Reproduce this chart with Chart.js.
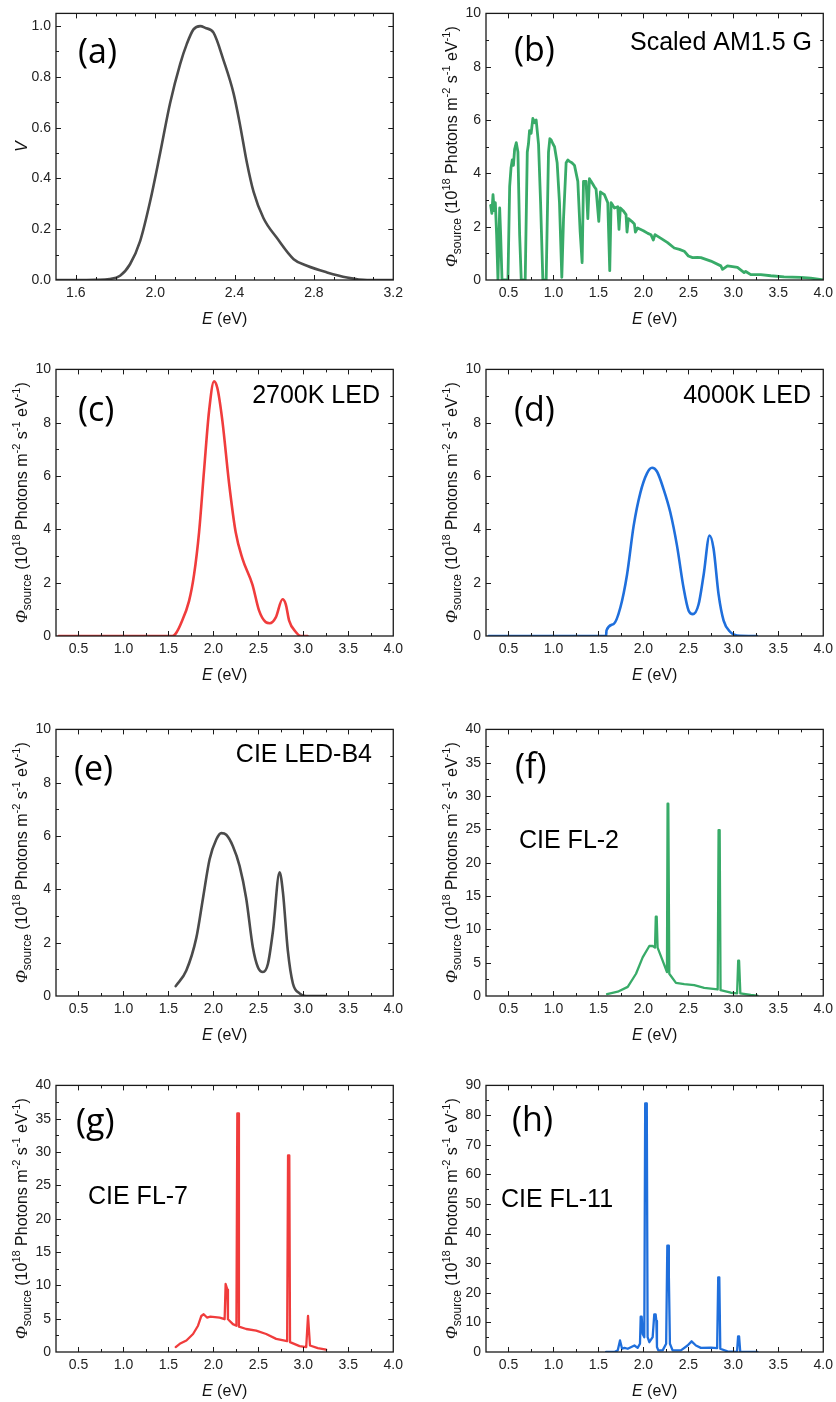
<!DOCTYPE html>
<html>
<head>
<meta charset="utf-8">
<script src="https://cdn.jsdelivr.net/npm/chart.js@4.4.1/dist/chart.umd.min.js"></script>
<style>
  body { margin: 0; background: #fff; width: 836px; height: 1402px; position: relative; overflow: hidden; }
  canvas { position: absolute; }
</style>
</head>
<body>
<canvas id="ca" width="408" height="330" style="left:0px;top:0px"></canvas>
<canvas id="cb" width="408" height="330" style="left:430px;top:0px"></canvas>
<canvas id="cc" width="408" height="330" style="left:0px;top:356px"></canvas>
<canvas id="cd" width="408" height="330" style="left:430px;top:356px"></canvas>
<canvas id="ce" width="408" height="330" style="left:0px;top:716px"></canvas>
<canvas id="cf" width="408" height="330" style="left:430px;top:716px"></canvas>
<canvas id="cg" width="408" height="330" style="left:0px;top:1072px"></canvas>
<canvas id="ch" width="408" height="330" style="left:430px;top:1072px"></canvas>
<script>
// (a) curva de sensibilidad V(E)
const aE = [1.5, 1.6, 1.7, 1.77, 1.823, 1.873, 1.924, 1.974, 2.025, 2.075, 2.126, 2.159, 2.193, 2.227, 2.252, 2.294, 2.345, 2.395, 2.429, 2.462, 2.496, 2.546, 2.613, 2.698, 2.765, 2.866, 2.967, 3.068, 3.2];
const aV = [0, 0, 0.001, 0.004, 0.017, 0.062, 0.153, 0.308, 0.50, 0.696, 0.851, 0.929, 0.987, 1.0, 0.993, 0.974, 0.864, 0.735, 0.605, 0.463, 0.347, 0.243, 0.166, 0.082, 0.056, 0.030, 0.010, 0, 0];

// (b) AM1.5 G escalado
const bE = [0.302, 0.315, 0.328, 0.341, 0.354, 0.368, 0.383, 0.402, 0.413, 0.428, 0.494, 0.513, 0.528, 0.542, 0.555, 0.568, 0.587, 0.605, 0.624, 0.642, 0.686, 0.709, 0.722, 0.734, 0.752, 0.771, 0.79, 0.808, 0.834, 0.857, 0.882, 0.919, 0.945, 0.96, 0.975, 0.995, 1.012, 1.041, 1.067, 1.093, 1.112, 1.141, 1.16, 1.178, 1.205, 1.234, 1.271, 1.297, 1.319, 1.334, 1.363, 1.382, 1.400, 1.418, 1.437, 1.455, 1.474, 1.504, 1.522, 1.545, 1.567, 1.604, 1.626, 1.641, 1.66, 1.678, 1.715, 1.729, 1.744, 1.775, 1.807, 1.818, 1.833, 1.87, 1.9, 1.911, 1.936, 2.0, 2.05, 2.084, 2.11, 2.129, 2.2, 2.269, 2.343, 2.4, 2.454, 2.5, 2.547, 2.6, 2.639, 2.75, 2.861, 2.88, 2.935, 3.046, 3.12, 3.138, 3.194, 3.305, 3.416, 3.564, 3.749, 3.86, 4.0];
const bPhi = [2.8, 2.5, 3.2, 2.6, 2.9, 1.7, 0, 2.7, 1.7, 0, 0, 3.5, 4.2, 4.5, 4.3, 4.9, 5.15, 4.8, 1.7, 0, 0, 4.8, 5.1, 5.6, 5.5, 6.06, 5.9, 6.0, 5.1, 2.9, 0, 0, 4.8, 5.3, 5.25, 5.1, 5.0, 4.4, 2.9, 0.1, 2.3, 4.4, 4.5, 4.45, 4.4, 4.3, 3.7, 1.8, 0.65, 3.7, 3.7, 2.3, 3.8, 3.7, 3.6, 3.5, 3.4, 2.2, 3.3, 3.25, 3.2, 2.9, 0.35, 2.9, 2.8, 2.7, 2.75, 1.9, 2.7, 2.6, 2.45, 1.8, 2.3, 2.2, 2.1, 1.8, 1.95, 1.85, 1.75, 1.7, 1.5, 1.7, 1.55, 1.4, 1.2, 1.15, 1.08, 0.9, 0.84, 0.85, 0.84, 0.71, 0.53, 0.4, 0.53, 0.47, 0.28, 0.32, 0.2, 0.2, 0.16, 0.12, 0.1, 0.07, 0];

// (c) LED 2700K
const cE = [0.28, 1.544, 1.581, 1.637, 1.729, 1.785, 1.841, 1.896, 1.952, 2.007, 2.044, 2.1, 2.174, 2.248, 2.322, 2.434, 2.508, 2.582, 2.627, 2.694, 2.768, 2.805, 2.842, 2.916, 2.972, 3.046];
const cPhi = [0, 0, 0.09, 0.45, 1.31, 2.3, 3.9, 6.2, 8.44, 9.55, 9.3, 8.07, 5.74, 3.89, 2.91, 1.93, 0.95, 0.52, 0.48, 0.7, 1.38, 1.19, 0.58, 0.15, 0, 0];

// (d) LED 4000K
const dE = [0.28, 1.585, 1.59, 1.67, 1.744, 1.818, 1.892, 1.966, 2.04, 2.096, 2.151, 2.225, 2.299, 2.373, 2.447, 2.503, 2.551, 2.614, 2.67, 2.736, 2.78, 2.836, 2.892, 2.966, 3.04, 3.262];
const dPhi = [0, 0, 0.21, 0.45, 1.07, 2.3, 4.14, 5.37, 6.1, 6.31, 6.17, 5.5, 4.64, 3.4, 1.8, 0.95, 0.82, 1.19, 2.3, 3.77, 3.28, 1.56, 0.58, 0.15, 0.02, 0];

// (e) CIE LED-B4
const eE = [1.581, 1.699, 1.81, 1.884, 1.958, 2.032, 2.088, 2.143, 2.217, 2.291, 2.365, 2.439, 2.495, 2.551, 2.606, 2.662, 2.736, 2.773, 2.828, 2.884, 2.958, 3.032, 3.254];
const ePhi = [0.37, 0.96, 2.18, 3.66, 5.13, 5.87, 6.11, 6.05, 5.62, 4.88, 3.66, 1.82, 1.08, 0.9, 1.2, 2.43, 4.64, 3.9, 1.69, 0.47, 0.1, 0, 0];

// (f) CIE FL-2
const fE = [1.596, 1.715, 1.826, 1.918, 1.992, 2.066, 2.103, 2.129, 2.138, 2.148, 2.158, 2.214, 2.262, 2.269, 2.277, 2.288, 2.362, 2.454, 2.565, 2.676, 2.826, 2.836, 2.848, 2.858, 2.972, 3.042, 3.054, 3.064, 3.078, 3.194, 3.268];
const fPhi = [0.3, 0.64, 1.37, 3.34, 5.8, 7.5, 7.5, 7.26, 11.9, 11.9, 7.26, 5.3, 3.58, 28.86, 28.86, 3.34, 1.96, 1.77, 1.62, 1.23, 0.98, 24.9, 24.9, 0.88, 0.49, 0.39, 5.3, 5.3, 0.39, 0.15, 0.05];

// (g) CIE FL-7
const gE = [1.581, 1.626, 1.7, 1.774, 1.829, 1.866, 1.892, 1.929, 1.966, 2.07, 2.125, 2.136, 2.155, 2.162, 2.217, 2.256, 2.266, 2.275, 2.284, 2.365, 2.476, 2.587, 2.698, 2.82, 2.83, 2.844, 2.852, 2.958, 3.032, 3.052, 3.06, 3.074, 3.161, 3.254];
const gPhi = [0.74, 1.23, 1.72, 2.7, 3.94, 5.41, 5.66, 5.17, 5.3, 5.17, 4.92, 10.2, 9.35, 4.92, 4.18, 3.94, 35.8, 35.8, 3.8, 3.45, 3.2, 2.7, 1.97, 1.62, 29.5, 29.5, 1.48, 0.89, 0.74, 5.41, 5.41, 0.98, 0.59, 0.34];

// (h) CIE FL-11
const hE = [1.585, 1.678, 1.715, 1.74, 1.763, 1.789, 1.826, 1.9, 1.936, 1.962, 1.97, 1.981, 1.992, 2.01, 2.02, 2.031, 2.038, 2.047, 2.066, 2.103, 2.121, 2.136, 2.144, 2.151, 2.166, 2.214, 2.253, 2.266, 2.275, 2.283, 2.295, 2.325, 2.417, 2.491, 2.536, 2.584, 2.639, 2.75, 2.82, 2.832, 2.844, 2.855, 2.935, 3.041, 3.053, 3.064, 3.077, 3.268];
const hPhi = [0, 0, 0.55, 3.9, 1.1, 1.4, 1.1, 2.2, 1.4, 2.8, 11.9, 11.9, 6.1, 5, 83.9, 83.9, 81.2, 5, 3.3, 5, 12.7, 12.7, 10.5, 1.7, 0.55, 0.55, 2.8, 35.9, 35.9, 26, 2.8, 0.55, 0.55, 2.2, 3.6, 2.2, 1.4, 1.5, 1.3, 25.2, 25.2, 1.1, 0.2, 0, 5.3, 5.3, 0, 0];

// etiquetas de los ejes
const ticksXa = [1.6, 2.0, 2.4, 2.8, 3.2];
const ticksX = [0.5, 1.0, 1.5, 2.0, 2.5, 3.0, 3.5, 4.0];
const ticksYa = [0, 0.2, 0.4, 0.6, 0.8, 1.0];
const ticksY10 = [0, 2, 4, 6, 8, 10];
const ticksY40 = [0, 5, 10, 15, 20, 25, 30, 35, 40];
const ticksY90 = [0, 10, 20, 30, 40, 50, 60, 70, 80, 90];

const GRIS = "#4b4b4b", VERDE = "#38ab68", ROJO = "#f03c3c", AZUL = "#1f6fdc";
const FUENTE = "'Liberation Sans', Arial, sans-serif";

// posiciones de cada panel (esquina del canvas en la pagina)
const paneles = [
  { id: "ca", px: 0, py: 0, E: aE, Y: aV, color: GRIS, suave: true, ancho: 2.6, xMin: 1.5, xMax: 3.2, xTicks: ticksXa, xPaso: 0.4, xMenor: 0.1, yMax: 1.05, yTicks: ticksYa, yPaso: 0.2, yMenor: 0.1, dec: 1, letra: "(a)", lx: 78, ly: 63, texto: null, tituloV: true },
  { id: "cb", px: 430, py: 0, E: bE, Y: bPhi, color: VERDE, suave: false, ancho: 2.8, xMin: 0.25, xMax: 4.0, xTicks: ticksX, xPaso: 0.5, xMenor: 0.25, yMax: 10, yTicks: ticksY10, yPaso: 2, yMenor: 1, dec: 0, letra: "(b)", lx: 514, ly: 61, texto: "Scaled AM1.5 G", tx: 812, ty: 50, alin: "right" },
  { id: "cc", px: 0, py: 356, E: cE, Y: cPhi, color: ROJO, suave: true, ancho: 2.6, xMin: 0.25, xMax: 4.0, xTicks: ticksX, xPaso: 0.5, xMenor: 0.25, yMax: 10, yTicks: ticksY10, yPaso: 2, yMenor: 1, dec: 0, letra: "(c)", lx: 78, ly: 421, texto: "2700K LED", tx: 380, ty: 403, alin: "right" },
  { id: "cd", px: 430, py: 356, E: dE, Y: dPhi, color: AZUL, suave: true, ancho: 2.6, xMin: 0.25, xMax: 4.0, xTicks: ticksX, xPaso: 0.5, xMenor: 0.25, yMax: 10, yTicks: ticksY10, yPaso: 2, yMenor: 1, dec: 0, letra: "(d)", lx: 514, ly: 421, texto: "4000K LED", tx: 811, ty: 403, alin: "right" },
  { id: "ce", px: 0, py: 716, E: eE, Y: ePhi, color: GRIS, suave: true, ancho: 2.6, xMin: 0.25, xMax: 4.0, xTicks: ticksX, xPaso: 0.5, xMenor: 0.25, yMax: 10, yTicks: ticksY10, yPaso: 2, yMenor: 1, dec: 0, letra: "(e)", lx: 74, ly: 780, texto: "CIE LED-B4", tx: 372, ty: 762, alin: "right" },
  { id: "cf", px: 430, py: 716, E: fE, Y: fPhi, color: VERDE, suave: false, ancho: 2.3, xMin: 0.25, xMax: 4.0, xTicks: ticksX, xPaso: 0.5, xMenor: 0.25, yMax: 40, yTicks: ticksY40, yPaso: 5, yMenor: 2.5, dec: 0, letra: "(f)", lx: 515, ly: 778, texto: "CIE FL-2", tx: 519, ty: 848, alin: "left" },
  { id: "cg", px: 0, py: 1072, E: gE, Y: gPhi, color: ROJO, suave: false, ancho: 2.3, xMin: 0.25, xMax: 4.0, xTicks: ticksX, xPaso: 0.5, xMenor: 0.25, yMax: 40, yTicks: ticksY40, yPaso: 5, yMenor: 2.5, dec: 0, letra: "(g)", lx: 76, ly: 1133, texto: "CIE FL-7", tx: 88, ty: 1204, alin: "left" },
  { id: "ch", px: 430, py: 1072, E: hE, Y: hPhi, color: AZUL, suave: false, ancho: 2.3, xMin: 0.25, xMax: 4.0, xTicks: ticksX, xPaso: 0.5, xMenor: 0.25, yMax: 90, yTicks: ticksY90, yPaso: 10, yMenor: 5, dec: 0, letra: "(h)", lx: 512, ly: 1131, texto: "CIE FL-11", tx: 501, ty: 1207, alin: "left" },
];

// titulo del eje y con subindices y superindices
const tituloPhi = [
  { t: "\u03A6", f: "italic 17px 'Liberation Serif', serif", dy: 0 },
  { t: "source", f: "12px " + FUENTE, dy: 4 },
  { t: " (10", f: "16px " + FUENTE, dy: 0 },
  { t: "18", f: "11px " + FUENTE, dy: -7 },
  { t: " Photons m", f: "16px " + FUENTE, dy: 0 },
  { t: "-2", f: "11px " + FUENTE, dy: -7 },
  { t: " s", f: "16px " + FUENTE, dy: 0 },
  { t: "-1", f: "11px " + FUENTE, dy: -7 },
  { t: " eV", f: "16px " + FUENTE, dy: 0 },
  { t: "-1", f: "11px " + FUENTE, dy: -7 },
  { t: ")", f: "16px " + FUENTE, dy: 0 },
];
const tituloV = [{ t: "V", f: "italic 16px " + FUENTE, dy: 0 }];
const tituloE = [
  { t: "E", f: "italic 16px " + FUENTE, dy: 0 },
  { t: " (eV)", f: "16px " + FUENTE, dy: 0 },
];

function textoRico(ctx, partes, x, y, rotar) {
  let ancho = 0;
  partes.forEach((p) => { ctx.font = p.f; ancho += ctx.measureText(p.t).width; });
  ctx.save();
  ctx.translate(x, y);
  if (rotar) ctx.rotate(-Math.PI / 2);
  ctx.textAlign = "left";
  ctx.textBaseline = "alphabetic";
  let cx = -ancho / 2;
  partes.forEach((p) => {
    ctx.font = p.f;
    ctx.fillText(p.t, cx, p.dy);
    cx += ctx.measureText(p.t).width;
  });
  ctx.restore();
}

function marcas(min, max, paso, menor) {
  const lista = [];
  for (let i = Math.ceil(min / menor - 1e-9); i <= Math.floor(max / menor + 1e-9); i++) {
    const v = i * menor;
    if (Math.abs(v - min) < 1e-9 || Math.abs(v - max) < 1e-9) continue;
    const r = v / paso;
    lista.push([v, Math.abs(r - Math.round(r)) < 1e-6]);
  }
  return lista;
}

function crearPlugin(panel) {
  return {
    id: "marco",
    afterDatasetsDraw(chart) {
      const { ctx, chartArea: a } = chart;
      const sx = chart.scales.x, sy = chart.scales.y;
      ctx.save();
      ctx.strokeStyle = "#1a1a1a";
      ctx.lineWidth = 1.3;
      ctx.strokeRect(a.left, a.top, a.right - a.left, a.bottom - a.top);
      ctx.lineWidth = 1;
      ctx.beginPath();
      marcas(panel.xMin, panel.xMax, panel.xPaso, panel.xMenor).forEach(([v, mayor]) => {
        const p = Math.round(sx.getPixelForValue(v)) + 0.5;
        const l = mayor ? 5 : 3;
        ctx.moveTo(p, a.bottom); ctx.lineTo(p, a.bottom - l);
        ctx.moveTo(p, a.top); ctx.lineTo(p, a.top + l);
      });
      marcas(0, panel.yMax, panel.yPaso, panel.yMenor).forEach(([v, mayor]) => {
        const p = Math.round(sy.getPixelForValue(v)) + 0.5;
        const l = mayor ? 5 : 3;
        ctx.moveTo(a.left, p); ctx.lineTo(a.left + l, p);
        ctx.moveTo(a.right, p); ctx.lineTo(a.right - l, p);
      });
      ctx.stroke();

      ctx.fillStyle = "#111";
      const medioY = (a.top + a.bottom) / 2;
      textoRico(ctx, panel.tituloV ? tituloV : tituloPhi, a.left - 29, medioY, true);
      textoRico(ctx, tituloE, (a.left + a.right) / 2, a.bottom + 44, false);

      // letra del panel
      ctx.fillStyle = "#000";
      ctx.font = "34px 'Open Sans', 'Noto Sans', sans-serif";
      ctx.textAlign = "left";
      ctx.textBaseline = "alphabetic";
      ctx.fillText(panel.letra, panel.lx - panel.px, panel.ly - panel.py);

      if (panel.texto) {
        ctx.font = "25px " + FUENTE;
        ctx.textAlign = panel.alin;
        ctx.fillText(panel.texto, panel.tx - panel.px, panel.ty - panel.py);
      }
      ctx.restore();
    },
  };
}

function construirPanel(panel) {
  const puntos = panel.E.map((e, i) => ({ x: e, y: panel.Y[i] }));
  const etiqueta = (v) => v.toFixed(panel.dec);
  new Chart(document.getElementById(panel.id), {
    type: "line",
    data: {
      datasets: [{
        data: puntos,
        borderColor: panel.color,
        borderWidth: panel.ancho,
        pointRadius: 0,
        fill: false,
        cubicInterpolationMode: panel.suave ? "monotone" : "default",
        tension: 0,
        borderJoinStyle: "round",
        borderCapStyle: "round",
      }],
    },
    options: {
      responsive: false,
      animation: false,
      devicePixelRatio: 1,
      events: [],
      layout: { padding: { left: 0, top: 8, right: 14, bottom: 0 } },
      plugins: { legend: { display: false }, tooltip: { enabled: false } },
      scales: {
        x: {
          type: "linear",
          min: panel.xMin,
          max: panel.xMax,
          grid: { display: false, drawTicks: false },
          border: { display: false },
          afterBuildTicks: (s) => { s.ticks = panel.xTicks.map((v) => ({ value: v })); },
          afterFit: (s) => { s.height = 50; },
          ticks: {
            autoSkip: false,
            maxRotation: 0,
            padding: 5,
            color: "#222",
            font: { family: FUENTE, size: 14 },
            callback: (v) => v.toFixed(1),
          },
        },
        y: {
          type: "linear",
          min: 0,
          max: panel.yMax,
          grid: { display: false, drawTicks: false },
          border: { display: false },
          afterBuildTicks: (s) => { s.ticks = panel.yTicks.map((v) => ({ value: v })); },
          afterFit: (s) => { s.width = 56; },
          ticks: {
            autoSkip: false,
            padding: 5,
            color: "#222",
            font: { family: FUENTE, size: 14 },
            callback: etiqueta,
          },
        },
      },
    },
    plugins: [crearPlugin(panel)],
  });
}

paneles.forEach(construirPanel);
</script>
</body>
</html>
